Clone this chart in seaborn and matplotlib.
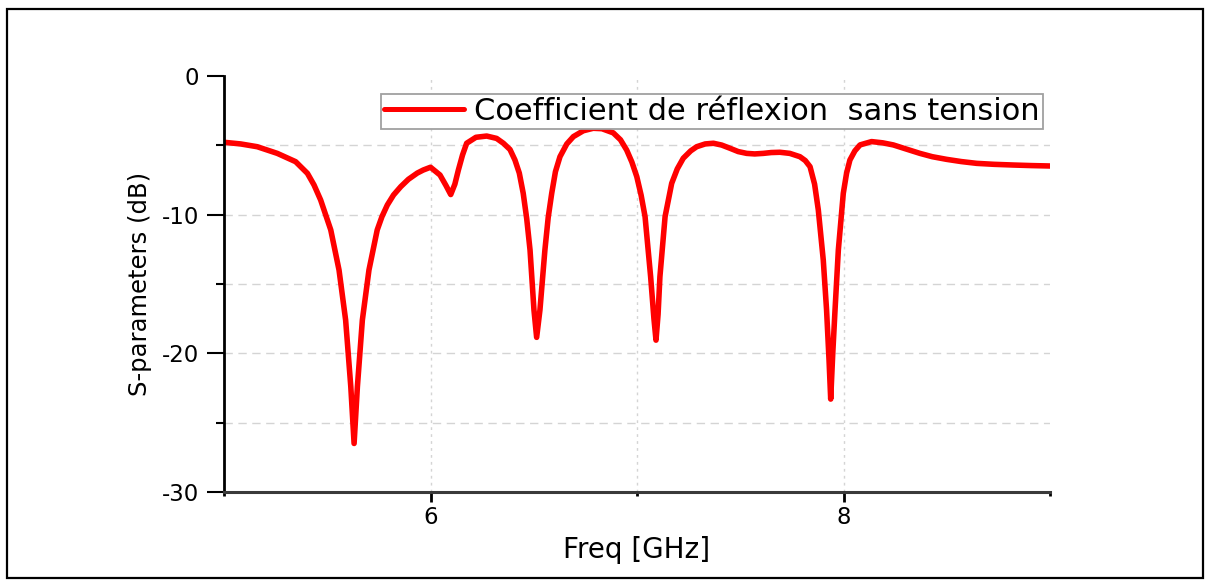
import matplotlib
matplotlib.use("Agg")
import matplotlib.pyplot as plt
import seaborn as sns
import pandas as pd
from matplotlib.patches import Rectangle
from matplotlib.ticker import FixedLocator

# ---- data ----
freq_ghz = [5.000, 5.081, 5.161, 5.258, 5.347, 5.404, 5.436, 5.468, 5.517, 5.557,
            5.589, 5.614, 5.630, 5.646, 5.670, 5.702, 5.742, 5.765, 5.791, 5.821,
            5.856, 5.893, 5.936, 5.965,
            6.000, 6.046, 6.075, 6.098, 6.118, 6.135, 6.155, 6.175, 6.220, 6.272,
            6.320, 6.353, 6.385, 6.409, 6.430, 6.449, 6.466, 6.482, 6.501, 6.514,
            6.530, 6.554, 6.570, 6.587, 6.605, 6.627, 6.660, 6.692, 6.740, 6.788,
            6.830, 6.885, 6.920, 6.950, 6.975, 6.999, 7.020, 7.039, 7.066, 7.082,
            7.092, 7.102, 7.111, 7.136, 7.168, 7.195, 7.224, 7.260, 7.289, 7.330,
            7.370, 7.410, 7.450, 7.490, 7.531, 7.570, 7.612, 7.650, 7.692, 7.740,
            7.789, 7.815, 7.838, 7.860, 7.878, 7.902, 7.918, 7.930, 7.938, 7.948,
            7.959, 7.975, 7.999, 8.015, 8.031, 8.055, 8.080, 8.136, 8.190, 8.241,
            8.300, 8.370, 8.430, 8.499, 8.570, 8.645, 8.730, 8.822, 8.910, 9.000]
s11_db = [-4.78, -4.90, -5.10, -5.58, -6.18, -7.02, -7.86, -8.94, -11.10, -13.99,
          -17.6, -22.4, -26.5, -22.4, -17.6, -13.99, -11.10, -10.14, -9.30, -8.58,
          -7.98, -7.45, -7.00, -6.78,
          -6.58, -7.14, -7.90, -8.55, -7.80, -6.78, -5.70, -4.85, -4.42, -4.33,
          -4.50, -4.85, -5.30, -6.06, -7.00, -8.46, -10.3, -12.55, -16.87, -18.85,
          -16.87, -12.55, -10.2, -8.46, -6.90, -5.82, -4.90, -4.37, -3.95, -3.77,
          -3.80, -4.10, -4.60, -5.34, -6.20, -7.26, -8.60, -10.14, -14.47, -17.5,
          -19.05, -17.2, -14.47, -10.14, -7.74, -6.70, -5.93, -5.40, -5.10, -4.90,
          -4.85, -4.98, -5.21, -5.45, -5.58, -5.62, -5.58, -5.52, -5.50, -5.58,
          -5.82, -6.10, -6.54, -7.80, -9.66, -13.27, -16.87, -20.5, -23.3, -20.0,
          -16.87, -12.55, -8.46, -7.00, -6.06, -5.40, -4.97, -4.73, -4.82, -4.97,
          -5.25, -5.58, -5.82, -6.01, -6.17, -6.30, -6.37, -6.42, -6.46, -6.49]
series_label = "Coefficient de réflexion  sans tension"
x_major = [6, 8]
x_minor = [5, 7, 9]
y_major = [0, -10, -20, -30]
y_minor = [-5, -15, -25]
x_title = "Freq [GHz]"
y_title = "S-parameters (dB)"

df = pd.DataFrame({"freq": freq_ghz, "s11": s11_db, "series": series_label})

sns.set_theme(style="white")
plt.rcParams["font.family"] = ["DejaVu Sans"]
plt.rcParams["axes.unicode_minus"] = False
plt.rcParams["text.color"] = "black"
plt.rcParams["axes.labelcolor"] = "black"
plt.rcParams["xtick.color"] = "black"
plt.rcParams["ytick.color"] = "black"

W, H = 1207, 582
fig = plt.figure(figsize=(W / 100, H / 100), dpi=100)
ax = fig.add_axes([224 / W, 1 - 492 / H, (1050 - 224) / W, (492 - 76) / H])

sns.lineplot(data=df, x="freq", y="s11", hue="series", palette=["#ff0000"],
             linewidth=4.0, ax=ax, sort=False, estimator=None)

ax.set_xlim(5, 9)
ax.set_ylim(-30, 0)

ax.xaxis.set_major_locator(FixedLocator(x_major))
ax.xaxis.set_minor_locator(FixedLocator(x_minor))
ax.yaxis.set_major_locator(FixedLocator(y_major))
ax.yaxis.set_minor_locator(FixedLocator(y_minor))

ax.tick_params(axis="y", which="major", direction="out", length=12, width=1.5,
               color="black", labelcolor="black", labelsize=16.5, pad=6, left=True)
ax.tick_params(axis="y", which="minor", direction="out", length=6, width=1.5,
               color="black", left=True)
ax.tick_params(axis="x", which="major", direction="out", length=7, width=2,
               color="black", labelcolor="black", labelsize=16.5, pad=3, bottom=True)
ax.tick_params(axis="x", which="minor", direction="out", length=3, width=2,
               color="black", bottom=True)

# grid
ax.grid(False)
for yv in y_major[1:-1] + y_minor:
    ax.axhline(yv, color="#d4d4d4", lw=1.0, ls=(0, (6, 4)), zorder=0)
for xv in [6, 7, 8]:
    ax.axvline(xv, color="#d4d4d4", lw=1.0, ls=(0, (2, 3)), zorder=0)

for side in ["top", "right"]:
    ax.spines[side].set_visible(False)
ax.spines["left"].set_color("black")
ax.spines["left"].set_linewidth(2)
ax.spines["bottom"].set_color("#3a3a3a")
ax.spines["bottom"].set_linewidth(2.2)

ax.set_xlabel(x_title, fontsize=20, labelpad=5, color="black")
ax.set_ylabel(y_title, fontsize=17.5, labelpad=7, color="black")

leg = ax.legend(loc="upper right", bbox_to_anchor=((1043 - 224) / 826, 1 - (94 - 76) / 416),
                borderaxespad=0, frameon=True, fancybox=False, fontsize=22,
                handlelength=2.6, handletextpad=0.35, borderpad=0.1, title=None)
leg.get_frame().set_edgecolor("#a0a0a0")
leg.get_frame().set_linewidth(1.3)
leg.get_frame().set_alpha(1)
for t in leg.get_texts():
    t.set_color("black")
for ln in leg.get_lines():
    ln.set_linewidth(3.6)

fig.patches.append(Rectangle((7 / W, 1 - 578 / H), (1203 - 7) / W, (578 - 9) / H,
                             transform=fig.transFigure, fill=False,
                             edgecolor="black", linewidth=1.6))

fig.savefig("out.png", dpi=100)
